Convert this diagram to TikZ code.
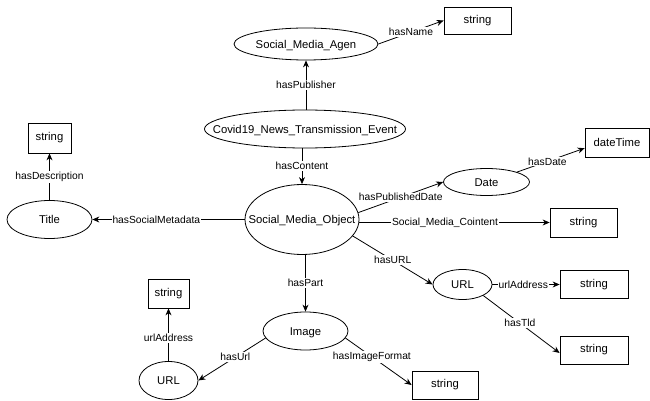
\documentclass[tikz,border=0pt]{standalone}
\usepackage{fontspec}
\setmainfont{Liberation Sans}
\usetikzlibrary{shapes.geometric,arrows.meta}
\newcommand{\nt}[1]{\makebox[0pt]{\raisebox{-0.36em}[0pt][0pt]{#1}}}
\newcommand{\nfont}{\fontsize{11.3}{13}\selectfont}
\newcommand{\lfont}{\fontsize{10.3}{12}\selectfont}
\tikzset{
  ent/.style={ellipse, draw, line width=0.8pt, inner sep=0pt, font=\nfont},
  lit/.style={rectangle, draw, line width=0.8pt, inner sep=0pt, font=\nfont},
  lbl/.style={fill=white, inner sep=1pt, font=\lfont},
  rel/.style={-{Stealth[length=7pt,width=6pt]}, line width=0.8pt},
}
\begin{document}
\begin{tikzpicture}[x=1pt,y=-1pt]
\useasboundingbox (0,0) rectangle (650,401);
% nodes
\node[ent, minimum width=144pt, minimum height=32pt] (agen) at (306,44) {\nt{Social\_Media\_Agen}};
\node[lit, minimum width=67pt, minimum height=27pt] (s1) at (477.5,20.5) {string};
\node[ent, minimum width=201pt, minimum height=38pt] (covid) at (305,129) {\nt{Covid19\_News\_Transmission\_Event}};
\node[ent, minimum width=114pt, minimum height=70pt] (smo) at (302,219.5) {\nt{Social\_Media\_Object}};
\node[ent, minimum width=85pt, minimum height=38pt] (title) at (49.5,219.5) {\nt{Title}};
\node[lit, minimum width=43pt, minimum height=30pt] (s2) at (49.5,138) {string};
\node[ent, minimum width=86pt, minimum height=27pt] (date) at (486.5,182) {\nt{Date}};
\node[lit, minimum width=64pt, minimum height=29pt] (dt) at (617,142.5) {dateTime};
\node[lit, minimum width=67pt, minimum height=29pt] (s3) at (583.5,222.5) {string};
\node[ent, minimum width=59pt, minimum height=30pt] (url1) at (462.5,284.5) {\nt{URL}};
\node[lit, minimum width=68pt, minimum height=28pt] (s4) at (594,284.5) {string};
\node[lit, minimum width=68pt, minimum height=28pt] (s5) at (594,350) {string};
\node[ent, minimum width=85pt, minimum height=38pt] (img) at (305.5,331) {\nt{Image}};
\node[ent, minimum width=59pt, minimum height=38pt] (url2) at (168.5,380.5) {\nt{URL}};
\node[lit, minimum width=41pt, minimum height=29pt] (s6) at (168.5,293.5) {string};
\node[lit, minimum width=66pt, minimum height=28pt] (s7) at (445,385) {string};
% connectors
\draw[rel] (covid.north -| agen.south) -- node[lbl]{hasPublisher} (agen.south);
\draw[rel] (agen.east) -- node[lbl]{hasName} (s1.west);
\draw[rel] (covid.south -| smo.north) -- node[lbl]{hasContent} (smo.north);
\draw[rel] (smo.west) -- node[lbl,pos=.58]{hasSocialMetadata} (title.east);
\draw[rel] (title.north) -- node[lbl]{hasDescription} (s2.south);
\draw[rel] (smo.7) -- node[lbl]{hasPublishedDate} (date.west);
\draw[rel] (date.18) -- node[lbl,pos=.45]{hasDate} (dt.190);
\draw[rel] (s3.west -| smo.east) -- node[lbl,pos=.45]{Social\_Media\_Cointent} (s3.west);
\draw[rel] (smo.-18) -- node[lbl]{hasURL} (url1.west);
\draw[rel] (url1.east) -- node[lbl,pos=.46]{urlAddress} (s4.west);
\draw[rel] (url1.-28) -- node[lbl,pos=.48]{hasTld} (s5.185);
\draw[rel] (smo.south -| img.north) -- node[lbl]{hasPart} (img.north);
\draw[rel] (img.190) -- node[lbl,pos=.45]{hasUrl} (url2.east);
\draw[rel] (url2.north) -- node[lbl,pos=.44]{urlAddress} (s6.south);
\draw[rel] (img.-10) -- node[lbl,pos=.4]{hasImageFormat} (s7.west);
\end{tikzpicture}
\end{document}
